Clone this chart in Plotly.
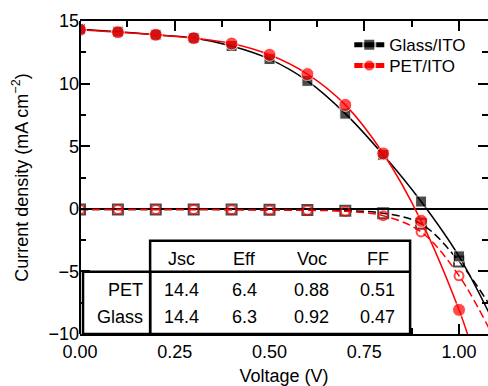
import plotly.graph_objects as go

# ---- data ----
voltage = [0.0, 0.1, 0.2, 0.3, 0.4, 0.5, 0.6, 0.7, 0.8, 0.9, 1.0]
glass_light = [14.35, 14.15, 13.9, 13.65, 13.0, 11.96, 10.22, 7.6, 4.31, 0.58, -3.8]
pet_light = [14.3, 14.1, 13.9, 13.63, 13.2, 12.3, 10.76, 8.3, 4.42, -0.96, -8.07]
glass_dark = [-0.05, -0.05, -0.05, -0.05, -0.05, -0.08, -0.1, -0.15, -0.35, -1.2, -4.2]
pet_dark = [-0.05, -0.05, -0.05, -0.05, -0.08, -0.1, -0.12, -0.2, -0.55, -1.85, -5.35]
ext_v_glass_light, ext_j_glass_light = 1.1, -9.6
ext_v_pet_light, ext_j_pet_light = 1.035, -11.2
ext_v_glass_dark, ext_j_glass_dark = 1.1, -8.6
ext_v_pet_dark, ext_j_pet_dark = 1.1, -10.8

table_cols = ["Jsc", "Eff", "Voc", "FF"]
table_rows = ["PET", "Glass"]
table_vals = [["14.4", "6.4", "0.88", "0.51"],
              ["14.4", "6.3", "0.92", "0.47"]]

FONT = "Liberation Sans, Arial, sans-serif"
RED = "#ff0000"
FS = 18

fig = go.Figure()

def add_curve(xs, ys, ext_x, ext_y, color, symbol, size, dash, name, legend, open_marker):
    n = len(xs)
    marker = dict(symbol=symbol, size=[size] * n + [0], color=color)
    if open_marker:
        marker = dict(symbol=symbol + "-open", size=[size] * n + [0], color=color,
                      line=dict(width=2, color=color))
    fig.add_trace(go.Scatter(
        x=list(xs) + [ext_x], y=list(ys) + [ext_y],
        mode="lines+markers", name=name, showlegend=legend is not None,
        legend=legend if legend else "legend",
        line=dict(color=color, width=1.5, dash=dash, shape="spline", smoothing=1.0),
        marker=marker, cliponaxis=True))

add_curve(voltage, glass_dark, ext_v_glass_dark, ext_j_glass_dark, "black", "square", 10,
          "8px,4px", "Glass dark", None, True)
add_curve(voltage, pet_dark, ext_v_pet_dark, ext_j_pet_dark, RED, "circle", 9,
          "8px,4px", "PET dark", None, True)
add_curve(voltage, glass_light, ext_v_glass_light, ext_j_glass_light, "black", "square", 11,
          "solid", "Glass/ITO", "legend", False)
add_curve(voltage, pet_light, ext_v_pet_light, ext_j_pet_light, RED, "circle", 13,
          "solid", "PET/ITO", "legend2", False)

# ---- table drawn as shapes + annotations ----
tx0, tx1, tx_split = 0.008, 0.871, 0.185
ty_top, ty_mid, ty_bot = -2.56, -5.03, -10.0
shapes = [
    dict(type="rect", x0=tx_split, x1=tx1, y0=ty_bot, y1=ty_top, fillcolor="white",
         line=dict(color="black", width=2.5), layer="above"),
    dict(type="rect", x0=tx0, x1=tx_split, y0=ty_bot, y1=ty_mid, fillcolor="white",
         line=dict(color="black", width=2.5), layer="above"),
    dict(type="line", x0=tx_split, x1=tx1, y0=ty_mid, y1=ty_mid,
         line=dict(color="black", width=2.5), layer="above"),
    # left axis line
    dict(type="line", xref="paper", yref="paper", x0=0, x1=0, y0=0, y1=1,
         line=dict(color="black", width=2), layer="above"),
]
col_x = [0.269, 0.433, 0.611, 0.785]
row_y = [-6.47, -8.68]
header_y = -3.97
annotations = []
for cx, c in zip(col_x, table_cols):
    annotations.append(dict(x=cx, y=header_y, text=c, showarrow=False,
                            font=dict(size=FS, color="black", family=FONT)))
for ry, rname, vals in zip(row_y, table_rows, table_vals):
    annotations.append(dict(x=0.172, y=ry, text=rname, showarrow=False, xanchor="right",
                            font=dict(size=FS, color="black", family=FONT)))
    for cx, v in zip(col_x, vals):
        annotations.append(dict(x=cx, y=ry, text=v, showarrow=False,
                                font=dict(size=FS, color="black", family=FONT)))

leg_common = dict(xanchor="left", yanchor="middle", bgcolor="rgba(0,0,0,0)",
                  font=dict(size=17, family=FONT), itemsizing="constant")

fig.update_layout(
    width=488, height=386,
    margin=dict(l=80, r=0, t=21, b=52),
    paper_bgcolor="white", plot_bgcolor="white",
    font=dict(family=FONT, size=FS, color="black"),
    shapes=shapes, annotations=annotations,
    legend=dict(x=0.66, y=0.923, **leg_common),
    legend2=dict(x=0.66, y=0.856, **leg_common),
    xaxis=dict(range=[0, 1.0765], tickmode="linear", tick0=0, dtick=0.25,
               tickformat=".2f", ticks="inside", ticklen=10, tickwidth=1.5,
               tickcolor="black", showline=True, linecolor="black", linewidth=2,
               mirror="ticks", showgrid=False, zeroline=False,
               minor=dict(dtick=0.125, ticks="inside", ticklen=6, tickwidth=1.5,
                          tickcolor="black", showgrid=False),
               title=dict(text="Voltage (V)", font=dict(size=FS), standoff=10),
               tickfont=dict(size=FS)),
    yaxis=dict(range=[-10, 15], tickmode="linear", tick0=0, dtick=5,
               ticks="inside", ticklen=10, tickwidth=1.5, tickcolor="black",
               showline=False, mirror="ticks", showgrid=False,
               zeroline=True, zerolinecolor="black", zerolinewidth=1.5,
               minor=dict(dtick=2.5, ticks="inside", ticklen=6, tickwidth=1.5,
                          tickcolor="black", showgrid=False),
               title=dict(text="Current density (mA cm<sup>−2</sup>)", font=dict(size=FS)),
               tickfont=dict(size=FS)),
)

fig.write_html("out.html")
